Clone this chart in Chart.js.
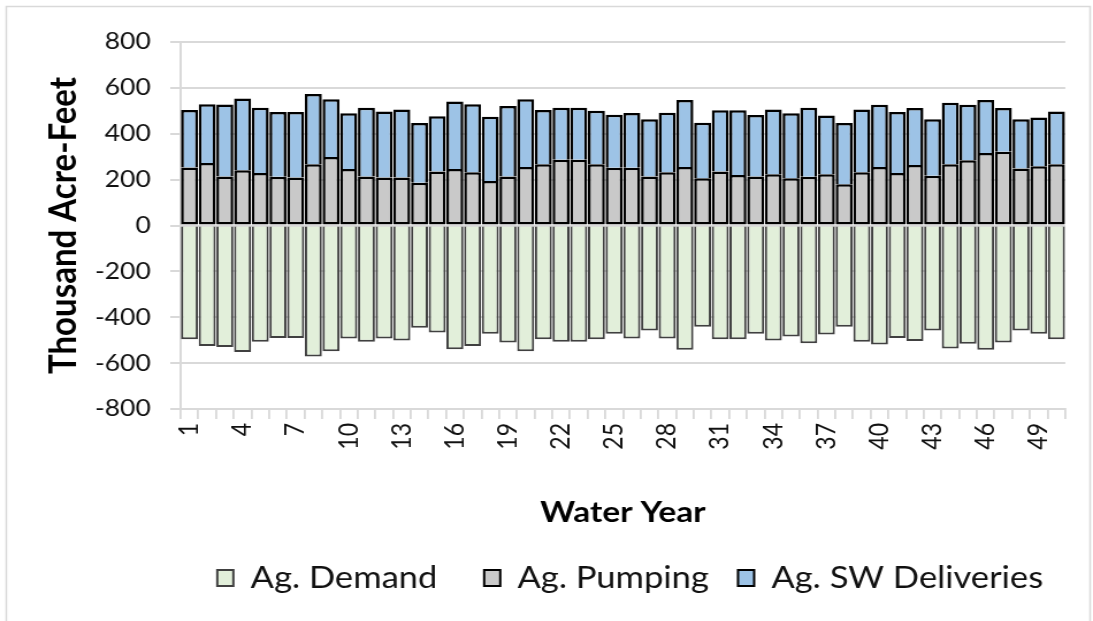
<!DOCTYPE html>
<html><head><meta charset="utf-8">
<script src="https://cdn.jsdelivr.net/npm/chart.js@4.4.1/dist/chart.umd.min.js"></script>
<style>html,body{margin:0;padding:0;background:#fff;overflow:hidden}
#c{display:block;width:1093px;height:621px}</style>
</head><body>
<canvas id="c" width="950" height="621" style="width:1093px;height:621px"></canvas>
<script>
const years = ['1','2','3','4','5','6','7','8','9','10','11','12','13','14','15','16','17','18','19','20','21','22','23','24','25','26','27','28','29','30','31','32','33','34','35','36','37','38','39','40','41','42','43','44','45','46','47','48','49','50'];
const shownYears = ['1','4','7','10','13','16','19','22','25','28','31','34','37','40','43','46','49'];
const agDemand = [-496,-525,-530,-551,-507,-490,-490,-571,-548,-493,-507,-493,-501,-446,-467,-539,-525,-472,-510,-548,-496,-507,-507,-496,-472,-493,-458,-493,-542,-441,-496,-496,-472,-501,-484,-513,-475,-441,-507,-519,-490,-504,-458,-536,-516,-542,-510,-458,-472,-496];
const agPumping = [253,272,214,241,229,212,209,267,299,246,214,209,209,186,235,246,232,194,214,255,267,287,287,267,252,252,214,232,255,206,235,220,214,223,206,212,223,180,232,255,229,264,217,267,284,316,322,249,258,267];
const agSWDeliveries = [250,257,313,313,284,283,286,306,251,243,299,288,297,261,241,295,297,280,307,295,236,226,226,233,231,238,249,260,292,242,267,282,268,283,283,301,257,267,274,271,266,248,246,268,242,231,190,214,213,230];
const seriesNames = ['Ag. Demand','Ag. Pumping','Ag. SW Deliveries'];
const legendTrail = ['    ','  ','  '];

const FONT = 'Lato';
const frame = {
  id:'frame',
  beforeDraw(chart){
    const c = chart.ctx;
    c.save();
    c.fillStyle='#fff'; c.fillRect(0,0,chart.width,chart.height);
    c.strokeStyle='#D9D9D9'; c.lineWidth=1.5;
    c.strokeRect(5.5,6.5,chart.width-8,chart.height-4);
    c.restore();
  }
};

new Chart(document.getElementById('c'), {
  type:'bar',
  data:{
    labels: years,
    datasets:[
      {label:seriesNames[0], data:agDemand, backgroundColor:'#E2EFDA', borderColor:'#404040', borderWidth:2, borderSkipped:'start'},
      {label:seriesNames[1], data:agPumping, backgroundColor:'#C9C9C9', borderColor:'#000000', borderWidth:2.5, borderSkipped:false},
      {label:seriesNames[2], data:agSWDeliveries, backgroundColor:'#9DC3E6', borderColor:'#000000', borderWidth:2.5, borderSkipped:'start'}
    ]
  },
  options:{
    responsive:false, animation:false, devicePixelRatio:1,
    layout:{padding:{left:0,right:18,top:42,bottom:18}},
    datasets:{bar:{barPercentage:0.96, categoryPercentage:1}},
    plugins:{
      tooltip:{enabled:false},
      legend:{
        position:'bottom', align:'end',
        labels:{
          font:{family:FONT,size:30}, color:'#111', boxWidth:14, boxHeight:16, padding:10,
          generateLabels(chart){
            const items = Chart.defaults.plugins.legend.labels.generateLabels(chart);
            items.forEach((it,i)=>{ it.text = it.text + legendTrail[i]; it.lineWidth = 2; });
            return items;
          }
        }
      }
    },
    scales:{
      x:{
        stacked:true,
        afterFit(s){ s.height = 144; },
        grid:{drawOnChartArea:false, drawTicks:true, tickLength:10, color:'#D9D9D9', lineWidth:1.8, offset:true},
        border:{display:true, color:'#D9D9D9', width:2},
        ticks:{autoSkip:false, minRotation:90, maxRotation:90, padding:4, color:'#111', font:{family:FONT,size:23},
          callback(v,i){ return shownYears.includes(years[i]) ? years[i] : ''; }},
        title:{display:true, text:'Water Year', color:'#000', font:{family:FONT,size:29,weight:'bold'}, padding:{top:0,bottom:23}}
      },
      y:{
        stacked:true, min:-800, max:800,
        afterFit(s){ s.width = 157; },
        grid:{color:'#D9D9D9', lineWidth:2, tickLength:9},
        border:{display:true, color:'#D9D9D9', width:2},
        ticks:{stepSize:200, padding:17, color:'#111', font:{family:FONT,size:23}},
        title:{display:true, text:'Thousand Acre-Feet', color:'#000', font:{family:FONT,size:33,weight:'bold'}, padding:{top:36,bottom:0}}
      }
    }
  },
  plugins:[frame]
});
</script>
</body></html>
